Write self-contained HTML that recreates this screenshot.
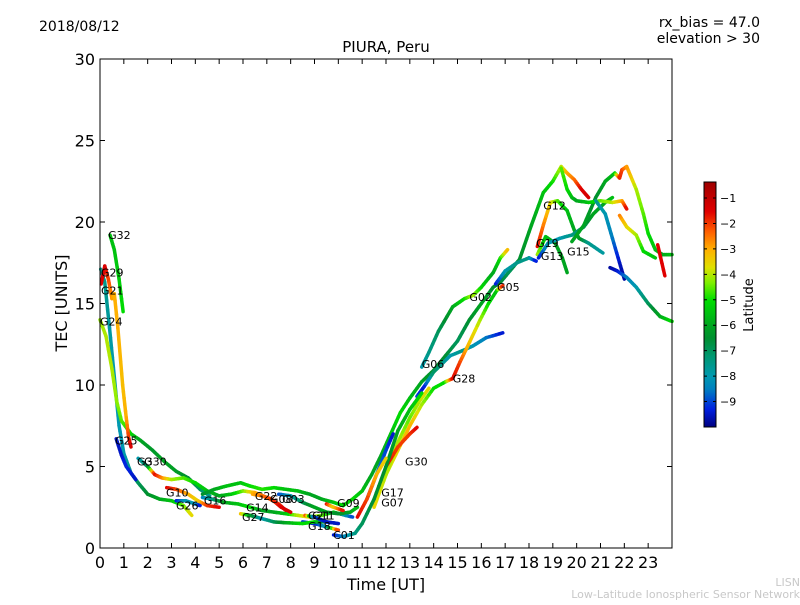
<!DOCTYPE html>
<html><head><meta charset="utf-8"><style>
body{margin:0;background:#fff;}
svg{font-family:"DejaVu Sans","Liberation Sans",sans-serif;}
</style></head><body>
<svg id="chart" width="800" height="600" viewBox="0 0 800 600">
<rect width="800" height="600" fill="#fff"/>
<text x="39" y="31" font-size="14">2018/08/12</text>
<text x="760" y="27" font-size="14" text-anchor="end">rx_bias = 47.0</text>
<text x="760" y="43" font-size="14" text-anchor="end">elevation &gt; 30</text>
<text x="386" y="52" font-size="15" text-anchor="middle">PIURA, Peru</text>
<g id="plot"></g>
<rect x="100" y="59" width="572" height="489" fill="none" stroke="#000" stroke-width="1"/>
<g id="axes"></g>
<text x="386" y="590" font-size="16" text-anchor="middle">Time [UT]</text>
<text transform="translate(67,303) rotate(-90)" font-size="16" text-anchor="middle">TEC [UNITS]</text>
<g id="cbar"></g>
<text transform="translate(753,305) rotate(-90)" font-size="13" text-anchor="middle">Latitude</text>
<text x="800" y="586" font-size="11" fill="#c8c8c8" text-anchor="end">LISN</text>
<text x="800" y="598" font-size="11" fill="#c8c8c8" text-anchor="end">Low-Latitude Ionospheric Sensor Network</text>
</svg>
<script>
const xTicks=[0,1,2,3,4,5,6,7,8,9,10,11,12,13,14,15,16,17,18,19,20,21,22,23];
const yTicks=[0,5,10,15,20,25,30];
const cbTicks=[-1,-2,-3,-4,-5,-6,-7,-8,-9];
const latMin=-10, latMax=-0.37;
// tracks: [time, tec, latitude]
const trackG32=[[.42,19.2,-5.5],[.6,18.3,-5.5],[.8,16.5,-5.3],[.97,14.5,-5]];
const trackG29=[[.05,16.2,-1.5],[.2,17.3,-1.3],[.35,16.5,-2],[.5,15.3,-2.8],[.6,15.6,-3],[.75,13.5,-3],[.95,10,-3.2],[1.1,8,-3],[1.2,6.8,-2],[1.3,6.2,-1.3]];
const trackG21=[[.03,17.1,-7.5],[.2,16.3,-7.5],[.4,13.5,-7.8],[.6,10.5,-8],[.8,7.5,-8],[1.0,5.8,-8],[1.3,4.6,-7.5],[1.6,4.0,-7],[2,3.3,-6.5],[2.5,3.0,-6],[3,2.9,-5.5],[3.5,2.6,-4.5],[3.85,2.0,-3.5]];
const trackG24=[[0,14,-4.2],[.25,13,-4],[.5,11,-4],[.7,9,-4.2],[.9,7.8,-4.5],[1.3,7,-5],[1.7,6.6,-6],[2.2,6,-6.3],[2.7,5.3,-6],[3.2,4.7,-6.2],[3.7,4.3,-6.5],[4.2,3.6,-7],[4.6,3.2,-7.5]];
const trackG25=[[.68,6.7,-9.5],[.9,5.7,-9.5],[1.1,5,-9.2],[1.5,4.2,-9.5]];
const trackG30=[[1.6,5.5,-8],[2,5,-7],[2.3,4.5,-1.5],[2.6,4.3,-2.5],[3,4.2,-4],[3.5,4.3,-4.5],[4,4.0,-5],[4.5,3.5,-5.5],[5,3.2,-6],[5.5,3.3,-5.5],[6,3.5,-4.5],[6.5,3.4,-3],[7,3.1,-2.5],[7.5,2.7,-2],[7.8,2.3,-1.3]];
const trackG10=[[2.8,3.7,-1.5],[3.2,3.6,-2],[3.7,3.3,-3],[4.1,2.9,-3.5],[4.5,2.6,-2],[5,2.5,-1.5]];
const trackG26=[[3.2,2.9,-9.5],[3.6,2.9,-8],[4,2.7,-8],[4.2,2.6,-9.5]];
const trackG16=[[4.3,3.1,-8.5],[4.7,3.0,-7.5],[5.2,2.8,-6],[5.8,2.7,-5.5],[6.3,2.5,-5],[6.8,2.3,-6],[7.3,2.2,-6],[7.8,2.1,-5.5],[8.3,2.0,-4],[8.8,1.9,-3.5],[9.3,2.0,-4.5],[9.8,2.2,-5],[10.3,2.0,-8],[10.6,1.9,-9]];
const trackMain=[[4.3,3.3,-6.5],[4.8,3.6,-6],[5.3,3.8,-5.5],[5.9,4.0,-5.5],[6.3,3.8,-5],[6.8,3.6,-4.8],[7.3,3.7,-5],[7.8,3.6,-5.5],[8.3,3.5,-5.5],[8.8,3.3,-6],[9.3,3.0,-6],[9.8,2.8,-5.5],[10.2,2.6,-5],[10.6,3.0,-5],[11,3.5,-5.5],[11.4,4.5,-6],[11.8,5.7,-6],[12.2,7,-5.5],[12.6,8.3,-5],[13,9.2,-5.5],[13.5,10.2,-6],[14,10.9,-6.5],[14.5,11.8,-6.5],[15,12.7,-7],[15.5,14,-6.5],[16,15,-6],[16.5,16,-6.5],[16.8,16.3,-6.5],[17.2,17,-7],[17.6,17.7,-6.5],[18.1,19.8,-6],[18.6,21.8,-5.5],[19,22.5,-5],[19.35,23.4,-4],[19.6,23,-3],[19.9,22.6,-2.5],[20.2,22,-1.5],[20.5,21.5,-1.3]];
const trackG02=[[13.5,11.1,-8],[13.8,12,-7.5],[14.2,13.3,-7],[14.8,14.8,-6],[15.3,15.3,-5],[15.65,15.5,-4],[16,16,-5],[16.5,16.9,-6],[16.8,17.8,-5],[17.1,18.3,-3]];
const trackG06=[[13.3,9.3,-9],[13.6,9.9,-9.5],[14,10.8,-7],[14.7,11.8,-8],[15.2,12.1,-7.5],[15.65,12.4,-8],[16.2,12.9,-8.5],[16.9,13.2,-9.5]];
const trackG28=[[11.6,3,-3.5],[12,4.5,-4],[12.5,6,-3.5],[13,7.5,-3],[13.5,8.8,-4],[14,9.8,-5],[14.5,10.2,-5],[14.8,10.4,-1.5],[15.1,11.4,-2],[15.4,12.3,-3],[15.95,14,-4],[16.3,15,-5],[16.65,15.8,-5.5],[16.9,16.1,-1.5]];
const trackG05=[[16.6,16.2,-9.5],[17,17,-8],[17.5,17.5,-7.5],[18,17.8,-7.5],[18.3,17.6,-9.5]];
const trackG12=[[18.35,18.5,-1.5],[18.6,19.8,-2.5],[18.9,21.2,-3.5],[19.2,21.3,-4.5],[19.6,20.7,-5.5],[19.9,19.5,-6],[20.1,19,-6],[20.5,18.7,-7.5],[21.1,18.1,-7.8]];
const trackG19=[[18.35,18.0,-4],[18.7,19.1,-5.5],[19.1,18.7,-6],[19.4,17.8,-6],[19.6,16.9,-6]];
const trackG13=[[18.4,17.8,-9.5],[18.8,18.7,-8],[19.3,19.0,-8],[19.8,19.2,-7.5],[20.3,19.7,-7],[20.7,20.5,-6],[21.2,21.2,-6],[21.5,21.5,-5.5]];
const trackPeak2=[[19.8,18.8,-6],[20.3,19.8,-6],[20.8,21.5,-6.5],[21.2,22.5,-6],[21.6,23,-5.5],[21.8,22.7,-1.8],[21.9,23.2,-2],[22.1,23.4,-2.7],[22.5,22,-4],[22.8,20.5,-4.5],[23,19.3,-5],[23.3,18.3,-5.5],[23.6,18,-6],[24,18,-5.5]];
const trackTop=[[19.35,23.3,-4.5],[19.6,22,-5],[19.8,21.5,-5.5],[20,21.3,-6],[20.5,21.2,-5.5],[21,21.3,-4.5],[21.5,21.2,-4],[21.9,21.3,-3],[22.1,20.8,-1.5]];
const trackDesc=[[20.8,21.3,-7.5],[21.2,20.5,-8],[21.5,19,-8.5],[21.8,17.5,-9.5],[22.0,16.5,-9.8]];
const trackG15b=[[21.4,17.2,-9.8],[21.7,17,-9.5],[22.1,16.6,-8.5],[22.5,16,-8],[23,15,-7],[23.5,14.2,-6],[24,13.9,-5]];
const trackYel=[[21.8,20.4,-2.5],[22.1,19.7,-3.5],[22.5,19.2,-4],[22.8,18.2,-5],[23.3,17.8,-5.5]];
const trackRed=[[23.4,18.6,-1.5],[23.7,16.7,-1.5]];
const trackBlue=[[11.2,3,-9],[11.6,4.5,-8.5],[12,6,-9],[12.3,7,-9.5]];
const trackYel2=[[11.5,2.5,-3.5],[12,4.5,-4],[12.5,6.5,-4],[13,8,-4.5],[13.4,9,-4],[13.8,9.8,-3.5]];
const trackRed2=[[12,5,-1.5],[12.5,6.2,-2],[13,7,-2],[13.3,7.4,-1.5]];
const trackC01=[[9.8,0.8,-9.5],[10.2,0.7,-8.5],[10.7,0.9,-7.5],[11,1.5,-7],[11.5,3,-6.5],[12,5,-6.5],[12.5,7.2,-6],[13,8.5,-5.5],[13.5,9.5,-5]];
const trackG18=[[8.5,1.6,-9],[9,1.5,-9.5],[9.5,1.3,-8],[10,1.1,-1.5]];
const trackG27=[[5.9,2.1,-3],[6.3,2.0,-6],[6.8,1.8,-8],[7.3,1.6,-7],[7.8,1.55,-6],[8.5,1.5,-5],[9,1.6,-5],[9.5,1.6,-7],[10,1.5,-8]];
const trackG22=[[6.4,3.3,-3],[6.8,3.2,-2.5],[7.2,3.0,-2],[7.6,2.5,-1.5],[8,2.2,-1.3]];
const trackG08=[[7.5,3.3,-9],[8,3.2,-8],[8.5,2.8,-7],[9,2.5,-6],[9.5,2.2,-6],[10,2.1,-6.5],[10.5,2.2,-6],[10.8,2.5,-5.5]];
const trackG11=[[8.6,2.0,-1.5],[9,1.9,-9],[9.5,1.6,-9.5],[10,1.5,-9.5]];
const trackG09=[[9.5,2.7,-1.5],[9.8,2.5,-3.5],[10.2,2.3,-1.5]];
const trackG17=[[10.8,1.9,-1.5],[11.2,3,-2],[11.6,4.5,-3],[12,5.5,-3.5]];
const tracks=[trackG21,trackG24,trackG32,trackG29,trackG25,trackG30,trackG10,trackG26,trackG16,trackMain,trackG02,trackG06,trackG28,trackG05,trackG12,trackG19,trackG13,trackPeak2,trackTop,trackDesc,trackG15b,trackYel,trackRed,trackBlue,trackYel2,trackRed2,trackC01,trackG18,trackG27,trackG22,trackG08,trackG11,trackG09,trackG17];
const labelNames=["G32","G29","G21","G24","G25","G3","G30","G10","G26","G16","G22","G08","G03","G14","G27","G21","G11","G18","G09","C01","G17","G07","G30","G06","G28","G02","G05","G12","G19","G13","G15"];
const labelT=[.34,.04,.04,0,.63,1.55,1.85,2.77,3.19,4.36,6.5,7.13,7.64,6.13,5.96,8.73,8.9,8.73,9.95,9.78,11.8,11.8,12.8,13.5,14.8,15.5,16.66,18.6,18.3,18.5,19.6];
const labelV=[19.2,16.9,15.8,13.9,6.6,5.3,5.3,3.4,2.6,2.9,3.2,3.0,3.0,2.5,1.9,2.0,2.0,1.35,2.75,0.8,3.4,2.8,5.3,11.3,10.4,15.4,16.0,21.0,18.7,17.9,18.2];
// colormap stops: [latitude, r, g, b]
const cmapStops=[[-10,0,0,128],[-9.3,0,32,224],[-8.5,0,128,192],[-8,0,153,176],[-7.2,0,152,112],[-6.5,0,143,48],[-6,0,165,32],[-5,0,221,0],[-4.3,128,240,0],[-3.7,224,224,0],[-3,255,176,0],[-2.3,255,96,0],[-1.5,224,0,0],[-0.37,160,0,0]];

const NS="http://www.w3.org/2000/svg";
const X=t=>100+t*23.833, Y=v=>548-v*16.3;
function latC(l){
 if(l<=cmapStops[0][0]) l=cmapStops[0][0];
 for(let i=0;i<cmapStops.length-1;i++){
  const a=cmapStops[i],b=cmapStops[i+1];
  if(l<=b[0]){const f=(l-a[0])/(b[0]-a[0]);
   return `rgb(${Math.round(a[1]+(b[1]-a[1])*f)},${Math.round(a[2]+(b[2]-a[2])*f)},${Math.round(a[3]+(b[3]-a[3])*f)})`;}
 }
 const z=cmapStops[cmapStops.length-1];return `rgb(${z[1]},${z[2]},${z[3]})`;
}
const plot=document.getElementById('plot');
tracks.forEach((tr)=>{
 const g=document.createElementNS(NS,'g');
 
 
 for(let i=0;i<tr.length-1;i++){
  const a=tr[i],b=tr[i+1];
  for(let k=0;k<5;k++){
   const f0=k/5,f1=(k+1)/5,fm=(k+.5)/5;
   const l=document.createElementNS(NS,'line');
   l.setAttribute('x1',X(a[0]+(b[0]-a[0])*f0));l.setAttribute('y1',Y(a[1]+(b[1]-a[1])*f0));
   l.setAttribute('x2',X(a[0]+(b[0]-a[0])*f1));l.setAttribute('y2',Y(a[1]+(b[1]-a[1])*f1));
   l.setAttribute('stroke',latC(a[2]+(b[2]-a[2])*fm));
   l.setAttribute('stroke-width','3.5');l.setAttribute('stroke-linecap','round');
   g.appendChild(l);
  }
 }
 plot.appendChild(g);
});
labelNames.forEach((n,i)=>{
 const t=document.createElementNS(NS,'text');
 t.setAttribute('x',X(labelT[i]));t.setAttribute('y',Y(labelV[i])+4);
 t.setAttribute('font-size','11');t.textContent=n;
 
 
 plot.appendChild(t);
});
const axes=document.getElementById('axes');
xTicks.forEach(v=>{
 const x=X(v);
 const l=document.createElementNS(NS,'path');
 l.setAttribute('d',`M${x},548v-5M${x},59v5`);l.setAttribute('stroke','#000');
 
 
 axes.appendChild(l);
 const t=document.createElementNS(NS,'text');
 t.setAttribute('x',x);t.setAttribute('y',568);t.setAttribute('font-size','16');t.setAttribute('text-anchor','middle');t.textContent=v;
 
 
 axes.appendChild(t);
});
yTicks.forEach(v=>{
 const y=Y(v);
 const l=document.createElementNS(NS,'path');
 l.setAttribute('d',`M100,${y}h5M672,${y}h-5`);l.setAttribute('stroke','#000');
 
 
 axes.appendChild(l);
 const t=document.createElementNS(NS,'text');
 t.setAttribute('x',95);t.setAttribute('y',y+6);t.setAttribute('font-size','16');t.setAttribute('text-anchor','end');t.textContent=v;
 
 
 axes.appendChild(t);
});
const cb=document.getElementById('cbar');
const cbTop=182,cbBot=427,cbX=704,cbW=12;
const CY=l=>cbBot-(l-latMin)/(latMax-latMin)*(cbBot-cbTop);
for(let i=0;i<245;i++){
 const r=document.createElementNS(NS,'rect');
 r.setAttribute('x',cbX);r.setAttribute('y',cbBot-i-1);r.setAttribute('width',cbW);r.setAttribute('height',1.5);
 r.setAttribute('fill',latC(latMin+(latMax-latMin)*i/244));
 
 
 cb.appendChild(r);
}
const fr=document.createElementNS(NS,'rect');
fr.setAttribute('x',cbX);fr.setAttribute('y',cbTop);fr.setAttribute('width',cbW);fr.setAttribute('height',cbBot-cbTop);
fr.setAttribute('fill','none');fr.setAttribute('stroke','#000');


cb.appendChild(fr);
cbTicks.forEach(v=>{
 const y=CY(v);
 const l=document.createElementNS(NS,'path');
 l.setAttribute('d',`M${cbX+cbW},${y}h-3M${cbX},${y}h3`);l.setAttribute('stroke','#000');
 
 
 cb.appendChild(l);
 const t=document.createElementNS(NS,'text');
 t.setAttribute('x',cbX+cbW+4);t.setAttribute('y',y+4);t.setAttribute('font-size','11');t.textContent='\u2212'+(-v);
 
 
 cb.appendChild(t);
});
</script>
</body></html>
